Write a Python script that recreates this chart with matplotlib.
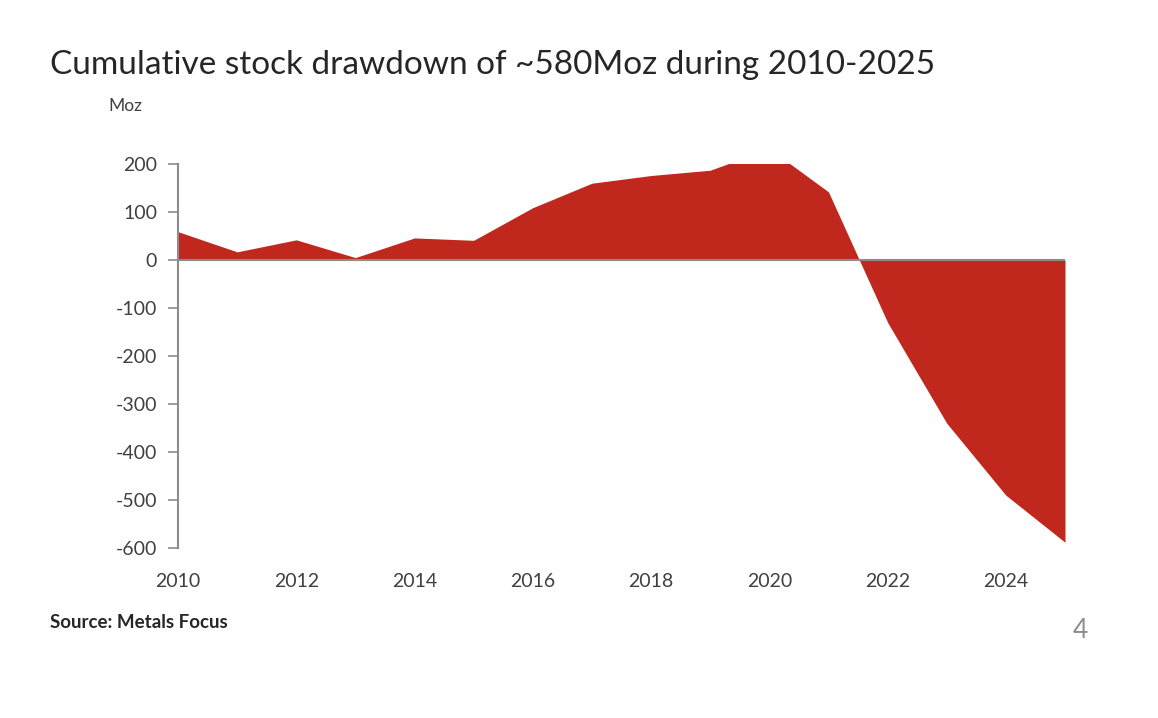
import matplotlib.pyplot as plt

years = [2010, 2011, 2012, 2013, 2014, 2015, 2016, 2017, 2018, 2019, 2020, 2021, 2022, 2023, 2024, 2025]
stock = [59, 17, 42, 5, 46, 41, 109, 160, 176, 187, 232, 142, -130, -340, -490, -588]
yticks = [200, 100, 0, -100, -200, -300, -400, -500, -600]
xticks = [2010, 2012, 2014, 2016, 2018, 2020, 2022, 2024]

plt.rcParams['font.family'] = ['Lato', 'DejaVu Sans']
plt.rcParams['axes.unicode_minus'] = False

fig = plt.figure(figsize=(11.58, 7.18), dpi=100)
ax = fig.add_axes([178 / 1158, 1 - 548 / 718, (1065 - 178) / 1158, (548 - 164) / 718])

ax.fill_between(years, stock, 0, color='#c0271d', linewidth=0)
ax.axhline(0, color='#8c8c8c', linewidth=1.5, zorder=3)

ax.set_xlim(2010, 2025)
ax.set_ylim(-600, 200)
ax.set_yticks(yticks)
ax.set_xticks(xticks)

for s in ['top', 'right', 'bottom']:
    ax.spines[s].set_visible(False)
ax.spines['left'].set_color('#8c8c8c')
ax.spines['left'].set_linewidth(1.5)
ax.tick_params(axis='y', length=7, width=1.2, color='#8c8c8c', labelcolor='#404040', labelsize=14, pad=8)
ax.tick_params(axis='x', length=0, labelcolor='#404040', labelsize=14, pad=18)

fig.text(50 / 1158, 1 - 65 / 718, 'Cumulative stock drawdown of ~580Moz during 2010-2025',
         fontsize=24, color='#262626', va='center', ha='left')
fig.text(108 / 1158, 1 - 106 / 718, 'Moz', fontsize=12.5, color='#404040', va='center', ha='left')
fig.text(50 / 1158, 1 - 622 / 718, 'Source: Metals Focus', fontsize=13.5, fontweight='bold',
         color='#262626', va='center', ha='left')
fig.text(1088 / 1158, 1 - 630 / 718, '4', fontsize=19, color='#8c8c8c', va='center', ha='right')

fig.savefig('out.png', dpi=100)
